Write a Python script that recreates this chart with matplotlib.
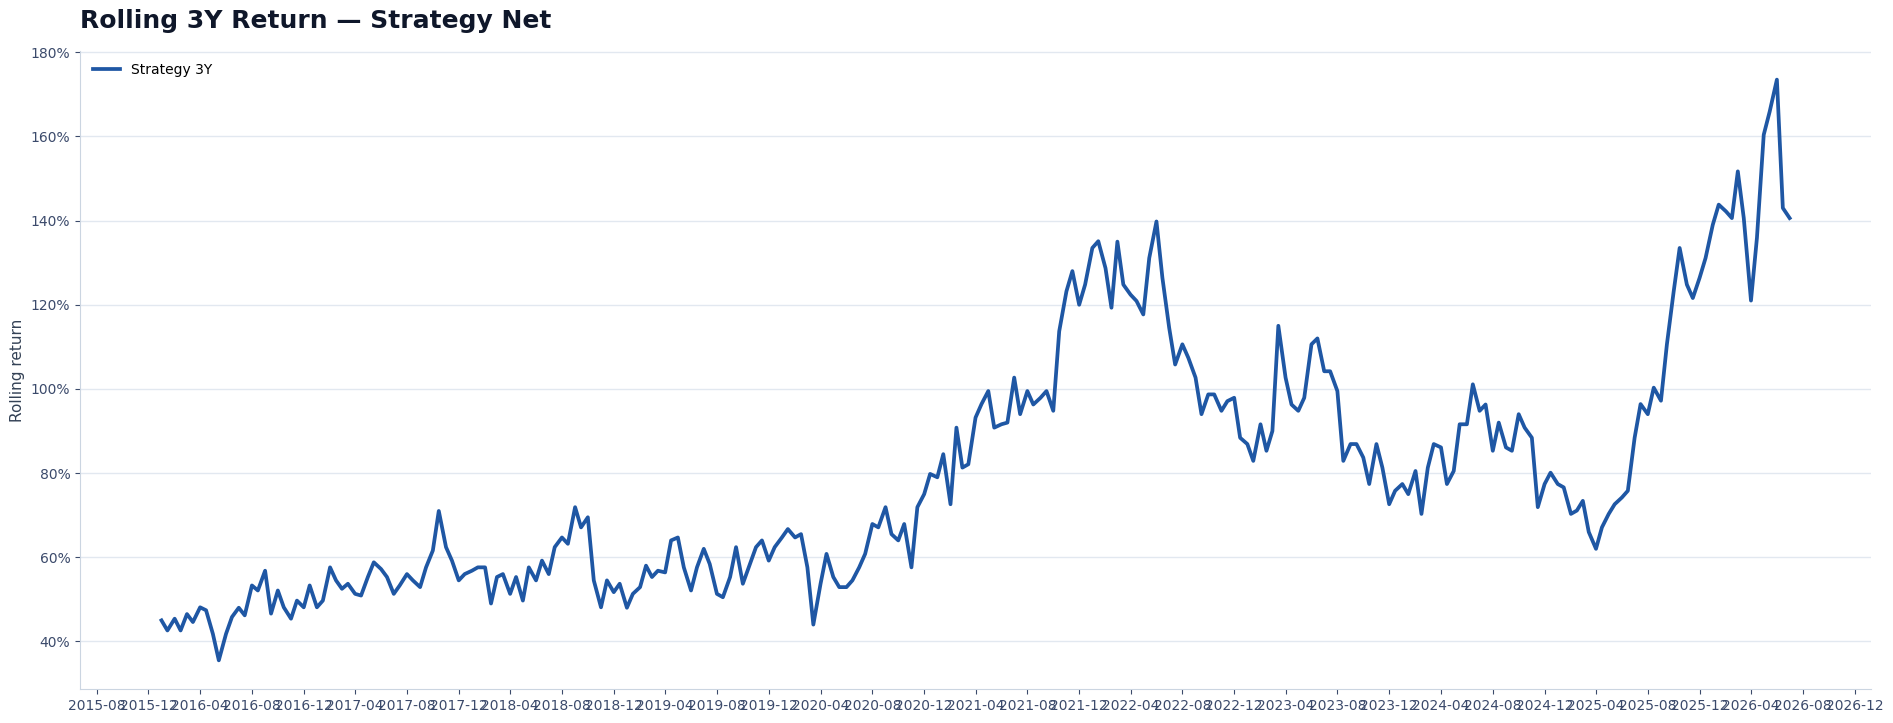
import pandas as pd
import matplotlib.pyplot as plt
import matplotlib.dates as mdates
from matplotlib.ticker import FuncFormatter

# rolling 3Y return (%), semi-monthly (1st and 15th)
r2016 = [45.0, 42.6, 45.4, 42.6, 46.5, 44.6, 48.1, 47.4, 41.8, 35.5, 41.8, 45.8,
         48.0, 46.2, 53.3, 52.1, 56.8, 46.6, 52.1, 48.1, 45.4, 49.7, 48.1, 53.3]
r2017 = [48.1, 49.7, 57.6, 54.5, 52.5, 53.7, 51.3, 50.9, 55.3, 58.8, 57.2, 55.3,
         51.3, 53.3, 56.0, 54.5, 52.9, 57.6, 61.6, 71.0, 62.4, 59.2, 54.5, 56.0]
r2018 = [56.8, 57.6, 57.6, 49.0, 55.3, 56.0, 51.3, 55.3, 49.7, 57.6, 54.5, 59.2,
         56.0, 62.4, 64.7, 63.2, 71.9, 67.1, 69.5, 54.5, 48.1, 54.5, 51.7, 53.7]
r2019 = [48.0, 51.3, 52.9, 58.0, 55.3, 56.8, 56.4, 64.0, 64.7, 57.6, 52.1, 57.6,
         62.0, 58.4, 51.3, 50.5, 55.3, 62.4, 53.7, 57.6, 62.4, 64.0, 59.2, 62.4]
r2020 = [64.7, 66.7, 64.7, 65.5, 57.6, 44.0, 53.7, 60.8, 55.3, 52.9, 52.9, 54.5,
         57.6, 60.8, 67.9, 67.1, 71.9, 65.5, 64.0, 67.9, 57.6, 71.9, 75.0, 79.8]
r2021 = [79.0, 84.5, 72.6, 90.8, 81.3, 82.1, 93.2, 96.4, 99.5, 90.8, 91.6, 92.0,
         102.7, 94.0, 99.5, 96.3, 97.9, 99.5, 94.8, 113.7, 123.2, 128.0, 120.0, 124.8]
r2022 = [133.5, 135.1, 128.7, 119.3, 135.0, 124.8, 122.4, 120.9, 117.7, 131.1, 139.8, 126.4,
         114.5, 105.8, 110.6, 107.4, 102.7, 94.0, 98.7, 98.7, 94.8, 97.1, 97.9, 88.4]
r2023 = [86.9, 82.9, 91.6, 85.3, 90.0, 115.0, 102.7, 96.3, 94.8, 97.9, 110.6, 112.0,
         104.2, 104.2, 99.5, 82.9, 86.9, 86.9, 83.7, 77.4, 86.9, 81.3, 72.6, 75.8]
r2024 = [77.4, 75.0, 80.5, 70.3, 81.3, 86.9, 86.1, 77.4, 80.5, 91.6, 91.6, 101.1,
         94.8, 96.3, 85.3, 92.0, 86.1, 85.3, 94.0, 90.8, 88.4, 71.9, 77.4, 80.1]
r2025 = [77.4, 76.6, 70.3, 71.1, 73.4, 66.0, 62.0, 67.1, 70.3, 72.6, 74.2, 75.8,
         88.4, 96.4, 94.0, 100.3, 97.2, 110.6, 123.2, 133.5, 124.8, 121.6, 126.4, 131.1]
r2026 = [139.0, 143.8, 142.2, 140.6, 151.7, 140.6, 121.0, 135.9, 160.4, 165.9, 173.5, 143.0,
         140.6]

values = r2016 + r2017 + r2018 + r2019 + r2020 + r2021 + r2022 + r2023 + r2024 + r2025 + r2026
dates = pd.date_range('2016-01-01', periods=len(values), freq='SMS')
df = pd.DataFrame({'date': dates, 'ret': [v / 100 for v in values]})

fig, ax = plt.subplots(figsize=(18.93, 7.23), dpi=100)
fig.subplots_adjust(left=0.0423, right=0.9884, top=0.930, bottom=0.0465)

ax.plot(df['date'], df['ret'], color='#1f57a4', lw=2.7, label='Strategy 3Y')

ax.set_title('Rolling 3Y Return — Strategy Net', loc='left', fontsize=18,
             fontweight='bold', color='#0f172a', pad=16)
ax.set_ylabel('Rolling return', fontsize=11, color='#334155')

ax.xaxis.set_major_locator(mdates.MonthLocator(bymonth=[4, 8, 12]))
ax.xaxis.set_major_formatter(mdates.DateFormatter('%Y-%m'))
ax.yaxis.set_major_formatter(FuncFormatter(lambda v, p: f'{v*100:.0f}%'))

ax.grid(axis='y', color='#e2e8f0', lw=1)
ax.set_axisbelow(True)
for s in ['top', 'right']:
    ax.spines[s].set_visible(False)
for s in ['left', 'bottom']:
    ax.spines[s].set_color('#cbd5e1')
ax.tick_params(colors='#3b4a6b', labelsize=10)

ax.legend(loc='upper left', frameon=False, fontsize=10)

plt.savefig('out.png', dpi=100)
